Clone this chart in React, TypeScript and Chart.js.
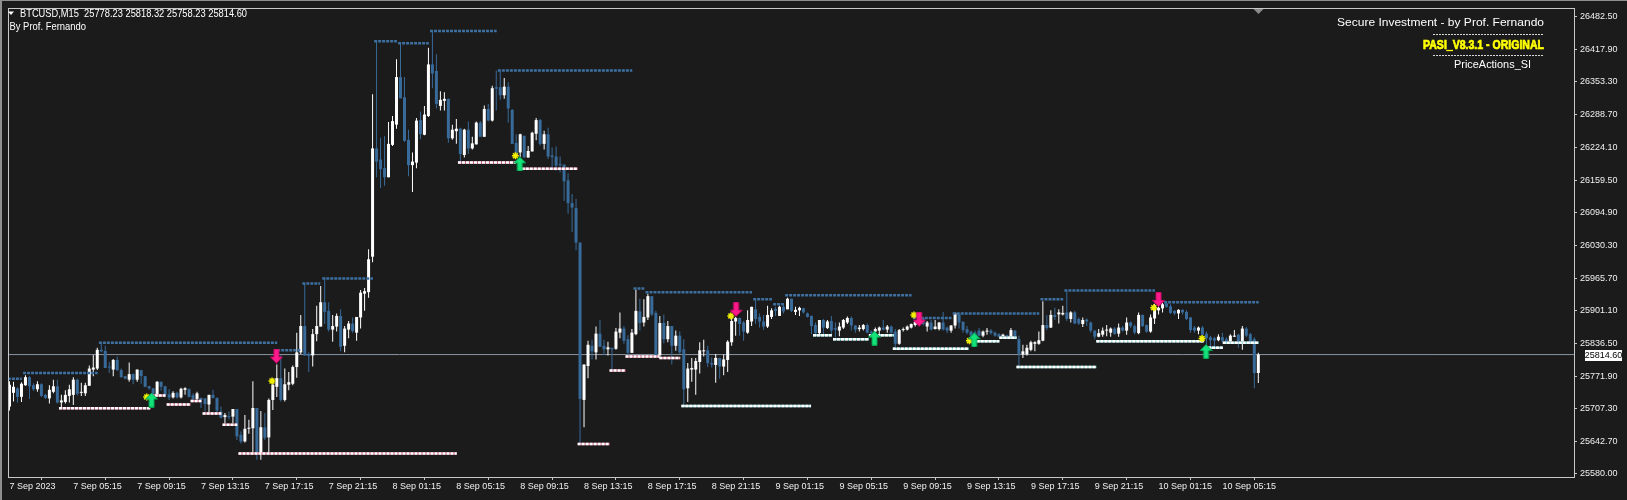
import React, { useEffect, useRef } from 'react';
import { Chart, registerables } from 'chart.js';

Chart.register(...registerables);

const SYMBOL = 'BTCUSD,M15';
const AUTHOR = 'By Prof. Fernando';
const TITLE_1 = 'Secure Investment - by Prof. Fernando';
const TITLE_2 = 'PASI_V8.3.1 - ORIGINAL';
const TITLE_3 = 'PriceActions_SI';

const OPEN = [
  25712,25739,25748,25731,25754,25770,25754,25746,25756,25735,25728,25741,25752,25720,25721,25733,25735,25765,25739,25738,
  25753,25785,25787,25824,25822,25790,25785,25804,25784,25772,25765,25776,25765,25784,25772,25752,25748,25733,25761,25752,
  25736,25730,25739,25730,25745,25746,25734,25727,25729,25728,25716,25735,25729,25702,25691,25693,25692,25707,25656,25643,
  25668,25669,25709,25620,25671,25651,25725,25751,25768,25725,25755,25757,25790,25819,25871,25816,25813,25855,25870,25918,
  25901,25864,25870,25891,25832,25864,25876,25858,25888,25935,25938,26008,26222,26200,26183,26165,26229,26269,26363,26323,
  26239,26189,26194,26278,26249,26286,26388,26375,26306,26316,26320,26242,26256,26261,26209,26259,26222,26230,26273,26245,
  26300,26277,26343,26343,26327,26344,26298,26233,26214,26247,26204,26216,26251,26278,26231,26250,26208,26206,26190,26190,
  26159,26114,26104,26036,25725,25792,25832,25819,25856,25832,25825,25828,25826,25858,25866,25845,25818,25855,25900,25878,
  25888,25930,25897,25813,25877,25845,25871,25832,25852,25825,25748,25785,25785,25800,25821,25823,25798,25794,25808,25791,
  25804,25839,25880,25887,25878,25858,25880,25904,25889,25880,25870,25889,25905,25891,25909,25904,25925,25899,25902,25906,
  25896,25891,25873,25857,25883,25867,25881,25867,25862,25868,25878,25887,25872,25865,25865,25873,25860,25860,25862,25868,
  25864,25870,25860,25836,25863,25864,25868,25873,25886,25886,25870,25878,25865,25865,25878,25868,25862,25872,25894,25879,
  25865,25860,25858,25862,25852,25860,25862,25858,25855,25851,25853,25850,25862,25845,25815,25815,25824,25836,25836,25842,
  25873,25868,25893,25894,25894,25898,25885,25898,25885,25875,25884,25878,25862,25850,25854,25862,25858,25866,25856,25868,
  25862,25878,25871,25857,25893,25873,25860,25886,25902,25906,25916,25910,25901,25896,25903,25899,25888,25868,25862,25868,
  25856,25849,25847,25843,25849,25845,25841,25850,25854,25841,25866,25855,25845,25778.23
];
const HIGH = [
  25762,25761,25750,25760,25774,25772,25758,25762,25758,25737,25754,25765,25765,25735,25744,25755,25770,25767,25759,25759,
  25793,25814,25828,25836,25832,25800,25806,25811,25787,25773,25799,25777,25785,25784,25772,25753,25748,25762,25761,25753,
  25746,25742,25741,25749,25750,25748,25738,25741,25730,25729,25735,25745,25730,25712,25699,25702,25707,25707,25663,25695,
  25686,25762,25709,25703,25699,25728,25767,25795,25813,25787,25780,25793,25858,25893,25954,25819,25865,25911,25950,25967,
  25918,25893,25896,25904,25871,25881,25888,25889,25942,25946,26023,26329,26434,26243,26246,26274,26286,26398,26430,26363,
  26259,26214,26282,26295,26306,26421,26452,26408,26335,26333,26320,26269,26280,26263,26261,26275,26245,26275,26276,26307,
  26310,26346,26376,26374,26361,26353,26300,26250,26251,26247,26227,26255,26282,26280,26257,26263,26224,26226,26206,26190,
  26173,26132,26122,26036,25795,25842,25844,25870,25883,25844,25840,25828,25867,25898,25871,25853,25865,25943,25925,25924,
  25935,25930,25901,25891,25894,25881,25871,25862,25860,25845,25798,25808,25808,25839,25844,25832,25809,25816,25808,25815,
  25843,25888,25889,25888,25881,25902,25909,25922,25896,25893,25911,25906,25909,25911,25912,25927,25925,25909,25909,25907,
  25898,25892,25878,25883,25885,25883,25891,25878,25878,25885,25890,25890,25873,25873,25875,25876,25862,25868,25870,25883,
  25873,25872,25865,25865,25868,25872,25876,25881,25890,25888,25881,25883,25883,25879,25899,25870,25873,25898,25896,25881,
  25871,25862,25862,25867,25862,25867,25865,25860,25857,25856,25854,25867,25863,25852,25834,25834,25842,25841,25860,25920,
  25893,25902,25907,25904,25911,25940,25900,25901,25888,25888,25886,25880,25863,25865,25868,25873,25868,25869,25876,25871,
  25888,25880,25874,25898,25894,25874,25894,25915,25914,25917,25917,25914,25902,25904,25904,25902,25889,25871,25870,25871,
  25860,25852,25850,25855,25858,25849,25855,25863,25856,25871,25869,25858,25849,25818.32
];
const LOW = [
  25704,25722,25720,25721,25753,25727,25743,25741,25731,25727,25718,25738,25718,25709,25718,25720,25715,25734,25733,25733,
  25753,25772,25784,25819,25788,25778,25772,25782,25769,25766,25761,25756,25761,25757,25750,25745,25731,25731,25743,25730,
  25725,25728,25728,25728,25735,25730,25725,25725,25709,25702,25699,25728,25700,25689,25678,25687,25679,25646,25639,25641,
  25658,25618,25607,25607,25646,25620,25705,25731,25722,25722,25744,25754,25769,25816,25812,25780,25791,25841,25870,25875,
  25860,25840,25860,25821,25819,25847,25858,25842,25866,25901,25927,25997,26165,26144,26148,26165,26227,26261,26321,26235,
  26167,26136,26183,26240,26248,26284,26341,26301,26297,26297,26233,26239,26231,26194,26204,26211,26220,26230,26245,26245,
  26275,26275,26297,26318,26320,26273,26231,26211,26205,26204,26204,26216,26238,26228,26220,26201,26185,26178,26175,26118,
  26093,26057,26021,25640,25671,25768,25805,25805,25830,25814,25813,25780,25824,25847,25836,25813,25818,25853,25862,25870,
  25883,25891,25813,25810,25837,25839,25795,25822,25816,25715,25721,25761,25735,25777,25811,25790,25789,25759,25767,25774,
  25780,25832,25852,25852,25842,25856,25871,25875,25868,25863,25867,25885,25891,25891,25896,25904,25899,25893,25891,25896,
  25888,25855,25855,25855,25855,25865,25853,25849,25851,25865,25875,25862,25858,25860,25862,25857,25855,25857,25855,25862,
  25858,25855,25829,25834,25860,25862,25866,25870,25875,25872,25860,25862,25864,25862,25862,25857,25858,25866,25866,25858,
  25855,25849,25848,25851,25849,25854,25854,25850,25849,25850,25849,25849,25845,25791,25808,25813,25821,25821,25834,25841,
  25863,25867,25883,25876,25892,25881,25878,25875,25873,25869,25871,25858,25845,25849,25850,25851,25850,25854,25850,25860,
  25854,25867,25855,25855,25869,25858,25858,25875,25894,25898,25907,25895,25893,25885,25894,25883,25858,25858,25855,25850,
  25828,25823,25826,25841,25839,25837,25839,25850,25828,25824,25849,25836,25748,25758.23
];
const CLOSE = [
  25755,25751,25731,25757,25770,25752,25746,25756,25733,25729,25745,25752,25720,25724,25735,25746,25765,25737,25741,25754,
  25787,25789,25824,25821,25788,25789,25804,25784,25770,25767,25776,25765,25785,25772,25751,25748,25737,25761,25751,25735,
  25730,25739,25730,25747,25748,25731,25727,25738,25725,25717,25735,25729,25704,25690,25695,25691,25707,25653,25643,25668,
  25670,25709,25620,25671,25650,25725,25755,25768,25725,25756,25760,25790,25819,25871,25813,25812,25855,25871,25918,25899,
  25864,25871,25891,25830,25866,25876,25861,25889,25937,25940,26003,26222,26196,26181,26165,26231,26276,26363,26321,26237,
  26189,26196,26277,26250,26289,26388,26370,26310,26318,26320,26242,26259,26261,26211,26259,26222,26232,26273,26245,26300,
  26277,26341,26340,26327,26344,26301,26231,26212,26250,26204,26217,26253,26278,26231,26250,26206,26205,26188,26189,26157,
  26114,26105,26036,25727,25795,25834,25821,25856,25830,25825,25829,25825,25860,25866,25842,25818,25858,25901,25877,25889,
  25930,25894,25813,25877,25845,25871,25832,25852,25819,25746,25787,25788,25802,25823,25823,25798,25795,25808,25791,25805,
  25840,25881,25887,25875,25860,25883,25909,25885,25880,25870,25893,25902,25901,25909,25900,25925,25901,25903,25907,25898,
  25889,25871,25857,25883,25868,25880,25862,25864,25870,25883,25887,25872,25864,25868,25873,25858,25857,25865,25868,25864,
  25870,25858,25836,25863,25865,25870,25875,25879,25878,25875,25878,25864,25870,25878,25864,25862,25872,25896,25878,25863,
  25858,25852,25849,25852,25860,25862,25857,25852,25850,25854,25850,25863,25849,25816,25821,25828,25839,25839,25843,25873,
  25867,25893,25889,25898,25897,25885,25898,25876,25876,25883,25880,25862,25850,25857,25862,25864,25866,25855,25868,25862,
  25878,25871,25858,25893,25871,25860,25888,25911,25907,25914,25909,25897,25896,25903,25898,25885,25863,25862,25868,25854,
  25847,25843,25842,25850,25842,25841,25852,25852,25841,25866,25852,25839,25778.23,25814.60
];

const Y_TICKS = [25580.0, 25642.7, 25707.3, 25771.9, 25836.5, 25901.1, 25965.7, 26030.3, 26094.9, 26159.5, 26224.1, 26288.7, 26353.3, 26417.9, 26482.5];
const X_TICK_INDEX = [0, 16, 32, 48, 64, 80, 96, 112, 128, 144, 160, 176, 192, 208, 224, 240, 256, 272, 288, 304];
const X_TICK_LABELS = [
  '7 Sep 2023', '7 Sep 05:15', '7 Sep 09:15', '7 Sep 13:15', '7 Sep 17:15', '7 Sep 21:15',
  '8 Sep 01:15', '8 Sep 05:15', '8 Sep 09:15', '8 Sep 13:15', '8 Sep 17:15', '8 Sep 21:15',
  '9 Sep 01:15', '9 Sep 05:15', '9 Sep 09:15', '9 Sep 13:15', '9 Sep 17:15', '9 Sep 21:15',
  '10 Sep 01:15', '10 Sep 05:15'
];

// resistance (blue dotted) segments
const RES_FROM = [-0.4, 3.4, 22.4, 67.1, 73.4, 78.4, 91.4, 97.4, 105.4, 122.4, 156.4, 159.4, 186.4, 191.4, 194.4, 226.4, 236.4, 258.4, 264.4, 289.4];
const RES_TO = [3.1, 22.1, 67.1, 73.1, 77.9, 91.1, 97.1, 105.1, 122.1, 156.1, 159.1, 186.1, 191.1, 194.1, 226.1, 236.1, 258.1, 264.1, 287.1, 313.1];
const RES_LEVEL = [25767, 25778, 25838, 25823, 25955, 25965, 26434, 26430, 26454, 26376, 25945, 25938, 25924, 25914, 25932, 25887, 25896, 25924, 25941, 25918];

// support (white dotted) segments
const SUP_FROM = [12.4, 35.4, 39.4, 45.4, 48.4, 53.4, 57.4, 112.4, 128.4, 142.4, 150.4, 154.4, 162.9, 168.4, 201.4, 206.4, 215.4, 221.4, 240.4, 248.1, 252.4, 272.4, 299.4, 304.1];
const SUP_TO = [35.4, 39.1, 45.4, 48.1, 53.1, 57.1, 112.1, 126.9, 142.4, 150.4, 154.4, 162.9, 168.1, 200.9, 206.1, 215.4, 221.6, 240.4, 248.1, 252.4, 272.4, 299.4, 304.1, 313.1];
const SUP_LEVEL = [25708.5, 25734, 25716, 25723, 25698, 25676, 25619, 26194, 26182, 25638, 25783, 25811, 25808, 25713, 25853, 25845, 25853, 25826, 25841, 25848, 25790, 25841, 25828, 25838];
const SUP_TINT = ['p','p','p','p','p','p','p','p','p','p','p','p','p','c','c','c','c','c','c','c','c','c','c','c'];

// signal markers
const UP_X = [35.6, 127.9, 216.8, 241.8, 299.9];
const UP_Y = [25724.8, 26191.4, 25847, 25843.7, 25820.6];
const DOWN_X = [66.9, 182.1, 228, 288];
const DOWN_Y = [25811.8, 25904.2, 25884.6, 25923.7];
const STAR_X = [34.4, 65.8, 126.8, 180.8, 226.7, 240.6, 286.8, 298.9];
const STAR_Y = [25731, 25762.5, 26207.4, 25891, 25893, 25842, 25907.3, 25846.6];

const W = 1627;
const H = 500;
const X_MIN = -0.375;
const X_MAX = 392.125;
const Y_MIN = 25572.7;
const Y_MAX = 26499.5;

const BG = '#1b1b1b';
const BULL = '#ffffff';
const BEAR = '#386a9a';
const RES_COLOR = '#3d70a0';
const FRAME = '#c8c8c8';
const FONT = '"Liberation Sans", Arial, sans-serif';

function segments(from: number[], to: number[], level: number[], pick?: (k: number) => boolean) {
  const out: any[] = [];
  from.forEach((f, k) => {
    if (pick && !pick(k)) return;
    out.push({ x: f, y: level[k] }, { x: to[k], y: level[k] }, { x: to[k], y: null });
  });
  return out;
}

function makeArrow(up: boolean, fill: string, edge: string) {
  const c = document.createElement('canvas');
  c.width = 13;
  c.height = 15;
  const g = c.getContext('2d')!;
  g.save();
  if (!up) {
    g.translate(0, 15);
    g.scale(1, -1);
  }
  g.beginPath();
  g.moveTo(6.5, 0.5);
  g.lineTo(12.5, 6.5);
  g.lineTo(9, 6.5);
  g.lineTo(9, 14.5);
  g.lineTo(4, 14.5);
  g.lineTo(4, 6.5);
  g.lineTo(0.5, 6.5);
  g.closePath();
  g.fillStyle = fill;
  g.fill();
  g.strokeStyle = edge;
  g.lineWidth = 1;
  g.stroke();
  g.restore();
  return c;
}

function fitText(ctx: CanvasRenderingContext2D, text: string, x: number, y: number, width: number, align: 'left' | 'right' | 'center', stroke = 0) {
  const w = ctx.measureText(text).width;
  const sx = width / w;
  let left = x;
  if (align === 'right') left = x - width;
  if (align === 'center') left = x - width / 2;
  ctx.save();
  ctx.translate(left, y);
  ctx.scale(sx, 1);
  ctx.textAlign = 'left';
  ctx.fillText(text, 0, 0);
  if (stroke > 0) {
    ctx.strokeStyle = ctx.fillStyle as string;
    ctx.lineWidth = stroke;
    ctx.strokeText(text, 0, 0);
  }
  ctx.restore();
}

const decorPlugin = {
  id: 'decor',
  beforeDraw(chart: any) {
    const { ctx, width, height } = chart;
    ctx.save();
    ctx.fillStyle = BG;
    ctx.fillRect(0, 0, width, height);
    ctx.fillStyle = '#8f8f8f';
    ctx.fillRect(0, 0, 2, height);
    ctx.fillRect(0, 0, width, 1);
    ctx.restore();
  },
  afterDraw(chart: any) {
    const { ctx, chartArea } = chart;
    const yS = chart.scales.y;
    const xS = chart.scales.x;
    const n = CLOSE.length;
    ctx.save();
    // frame
    ctx.strokeStyle = FRAME;
    ctx.lineWidth = 1;
    ctx.strokeRect(chartArea.left + 0.5, chartArea.top + 0.5, chartArea.right - chartArea.left, chartArea.bottom - chartArea.top);

    // shift marker
    const sx = Math.round(xS.getPixelForValue(n - 1)) + 0.5;
    ctx.fillStyle = '#8a8a8a';
    ctx.beginPath();
    ctx.moveTo(sx - 5, chartArea.top + 1);
    ctx.lineTo(sx + 5, chartArea.top + 1);
    ctx.lineTo(sx, chartArea.top + 6);
    ctx.closePath();
    ctx.fill();

    // header left
    ctx.fillStyle = '#ffffff';
    ctx.beginPath();
    ctx.moveTo(8, 11.5);
    ctx.lineTo(14, 11.5);
    ctx.lineTo(11, 15);
    ctx.closePath();
    ctx.fill();
    ctx.textBaseline = 'middle';
    ctx.font = `11px ${FONT}`;
    const last = n - 1;
    const hdr = `${SYMBOL}  ${OPEN[last].toFixed(2)} ${HIGH[last].toFixed(2)} ${LOW[last].toFixed(2)} ${CLOSE[last].toFixed(2)}`;
    fitText(ctx, hdr, 20, 13.5, 227, 'left');
    fitText(ctx, AUTHOR, 9.5, 26.5, 76.5, 'left');

    // header right
    ctx.font = `11px ${FONT}`;
    fitText(ctx, TITLE_1, 1544, 23, 207, 'right');
    ctx.strokeStyle = '#d8d8d8';
    ctx.setLineDash([2, 1]);
    ctx.beginPath();
    ctx.moveTo(1433, 34.5);
    ctx.lineTo(1544, 34.5);
    ctx.moveTo(1433, 55.5);
    ctx.lineTo(1544, 55.5);
    ctx.stroke();
    ctx.setLineDash([]);
    ctx.fillStyle = '#ffff00';
    ctx.font = `bold 13px "Liberation Sans Narrow", ${FONT}`;
    fitText(ctx, TITLE_2, 1544, 45, 121, 'right', 0.7);
    ctx.fillStyle = '#ffffff';
    ctx.font = `11px ${FONT}`;
    fitText(ctx, TITLE_3, 1492.5, 64.5, 77, 'center');

    // current price label
    const py = Math.round(yS.getPixelForValue(CLOSE[last]));
    ctx.fillStyle = '#ffffff';
    ctx.fillRect(1585, py - 5, 37, 11);
    ctx.fillStyle = '#000000';
    ctx.font = `9px ${FONT}`;
    ctx.textAlign = 'center';
    ctx.fillText(CLOSE[last].toFixed(2), 1603.5, py + 0.5);
    ctx.restore();
  },
};

export default function App() {
  const ref = useRef<HTMLCanvasElement | null>(null);

  useEffect(() => {
    document.body.style.margin = '0';
    document.body.style.background = BG;
    const canvas = ref.current;
    if (!canvas) return;

    const idx = CLOSE.map((_, i) => i);
    const colors = idx.map((i) => (CLOSE[i] >= OPEN[i] ? BULL : BEAR));
    const last = CLOSE[CLOSE.length - 1];

    const upImg = makeArrow(true, '#14e27a', '#05a24e');
    const downImg = makeArrow(false, '#ff1a8c', '#c80a68');

    const chart = new Chart(canvas, {
      type: 'bar',
      data: {
        datasets: [
          {
            type: 'scatter',
            data: UP_X.map((x, k) => ({ x, y: UP_Y[k] })),
            pointStyle: upImg as any,
            pointRadius: 7,
            order: 0,
          } as any,
          {
            type: 'scatter',
            data: DOWN_X.map((x, k) => ({ x, y: DOWN_Y[k] })),
            pointStyle: downImg as any,
            pointRadius: 7,
            order: 0,
          } as any,
          {
            type: 'scatter',
            data: STAR_X.map((x, k) => ({ x, y: STAR_Y[k] })),
            pointStyle: 'star',
            pointRadius: 3.5,
            borderColor: '#f2f000',
            backgroundColor: '#f2f000',
            borderWidth: 1.5,
            order: 0,
          } as any,
          {
            type: 'line',
            data: segments(SUP_FROM, SUP_TO, SUP_LEVEL),
            borderColor: '#ffffff',
            borderWidth: 2.5,
            borderDash: [3, 1],
            pointRadius: 0,
            spanGaps: false,
            order: 1,
          } as any,
          {
            type: 'line',
            data: segments(SUP_FROM, SUP_TO, SUP_LEVEL, (k) => SUP_TINT[k] === 'p'),
            borderColor: '#d06a8a',
            borderWidth: 2.5,
            pointRadius: 0,
            spanGaps: false,
            order: 1.5,
          } as any,
          {
            type: 'line',
            data: segments(SUP_FROM, SUP_TO, SUP_LEVEL, (k) => SUP_TINT[k] === 'c'),
            borderColor: '#8fd8d8',
            borderWidth: 2.5,
            pointRadius: 0,
            spanGaps: false,
            order: 1.5,
          } as any,
          {
            type: 'line',
            data: segments(RES_FROM, RES_TO, RES_LEVEL),
            borderColor: RES_COLOR,
            borderWidth: 2.5,
            borderDash: [3, 1],
            pointRadius: 0,
            spanGaps: false,
            order: 1,
          } as any,
          {
            type: 'bar',
            data: idx.map((i) => ({ x: i, y: [OPEN[i], CLOSE[i]] })),
            backgroundColor: colors,
            barThickness: 3,
            grouped: false,
            minBarLength: 1,
            inflateAmount: 0,
            borderWidth: 0,
            order: 2,
          } as any,
          {
            type: 'bar',
            data: idx.map((i) => ({ x: i, y: [LOW[i], HIGH[i]] })),
            backgroundColor: colors,
            barThickness: 1,
            grouped: false,
            minBarLength: 1,
            inflateAmount: 0,
            borderWidth: 0,
            order: 3,
          } as any,
          {
            type: 'line',
            data: [
              { x: X_MIN, y: last },
              { x: X_MAX, y: last },
            ],
            borderColor: '#8a96a2',
            borderWidth: 1,
            pointRadius: 0,
            order: 4,
          } as any,
        ],
      },
      options: {
        responsive: false,
        animation: false,
        devicePixelRatio: 1,
        events: [],
        layout: { padding: { left: 4, top: 4, right: 0, bottom: 0 } },
        plugins: { legend: { display: false }, tooltip: { enabled: false } },
        scales: {
          x: {
            type: 'linear',
            min: X_MIN,
            max: X_MAX,
            offset: false,
            afterBuildTicks: (s: any) => {
              s.ticks = X_TICK_INDEX.map((v) => ({ value: v }));
            },
            afterFit: (s: any) => {
              s.height = 23;
              s.paddingLeft = 0;
              s.paddingRight = 0;
            },
            ticks: {
              autoSkip: false,
              maxRotation: 0,
              minRotation: 0,
              align: 'start',
              color: '#f0f0f0',
              font: { family: FONT, size: 9 },
              padding: 1,
              callback: (v: any) => {
                const k = X_TICK_INDEX.indexOf(Number(v));
                return k >= 0 ? X_TICK_LABELS[k] : '';
              },
            },
            grid: { drawOnChartArea: false, drawTicks: true, tickLength: 3, color: FRAME },
            border: { display: false },
          },
          y: {
            type: 'linear',
            position: 'right',
            min: Y_MIN,
            max: Y_MAX,
            afterBuildTicks: (s: any) => {
              s.ticks = Y_TICKS.map((v) => ({ value: v }));
            },
            afterFit: (s: any) => {
              s.width = 53;
              s.paddingTop = 0;
              s.paddingBottom = 0;
            },
            ticks: {
              color: '#f0f0f0',
              font: { family: FONT, size: 9 },
              padding: 3,
              crossAlign: 'near',
              callback: (v: any) => Number(v).toFixed(2),
            },
            grid: { drawOnChartArea: false, drawTicks: true, tickLength: 3, color: FRAME },
            border: { display: false },
          },
        },
      } as any,
      plugins: [decorPlugin],
    });

    return () => chart.destroy();
  }, []);

  return (
    <div style={{ width: W, height: H }}>
      <canvas ref={ref} width={W} height={H} style={{ display: 'block' }} />
    </div>
  );
}
